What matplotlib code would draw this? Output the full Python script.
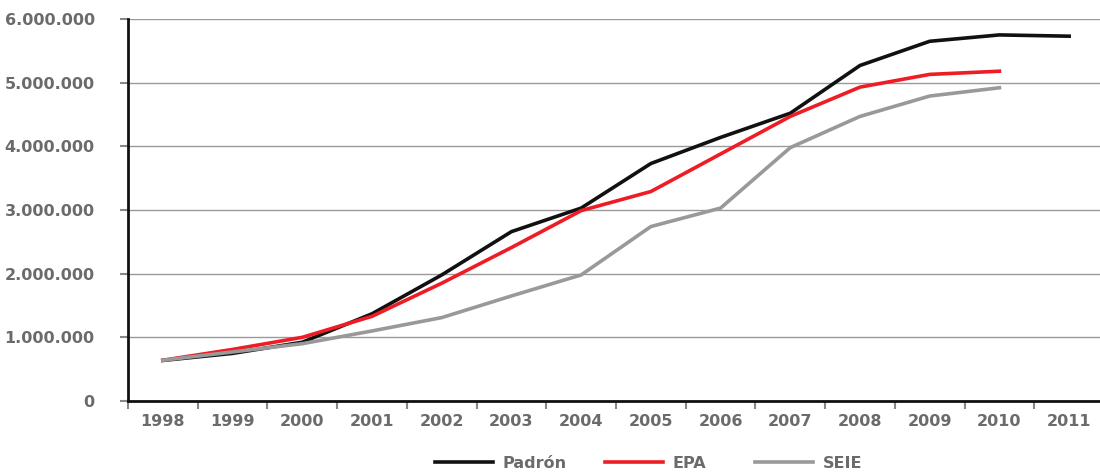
import matplotlib
matplotlib.use("Agg")
import matplotlib.pyplot as plt
from matplotlib.ticker import FuncFormatter, FixedLocator

years = ["1998", "1999", "2000", "2001", "2002", "2003", "2004",
         "2005", "2006", "2007", "2008", "2009", "2010", "2011"]
padron = [637000, 748000, 923000, 1370000, 1980000, 2660000, 3030000,
          3730000, 4140000, 4520000, 5270000, 5650000, 5750000, 5730000]
epa = [640000, 810000, 1000000, 1330000, 1850000, 2410000, 2990000,
       3290000, 3880000, 4470000, 4930000, 5130000, 5180000]
seie = [640000, 770000, 900000, 1100000, 1310000, 1650000, 1980000,
        2740000, 3030000, 3980000, 4470000, 4790000, 4920000]

plt.rcParams['font.family'] = ['DejaVu Sans']
txt = '#6b6b6b'

fig = plt.figure(figsize=(11, 4.76), dpi=100)
W, H = 1100, 476
ax = fig.add_axes([128 / W, 1 - 401 / H, (1104 - 128) / W, (401 - 19) / H])

x = list(range(len(years)))
l1, = ax.plot(x[:len(padron)], padron, color='#111111', lw=2.6, label='Padrón')
l2, = ax.plot(x[:len(epa)], epa, color='#ee1c25', lw=2.6, label='EPA')
l3, = ax.plot(x[:len(seie)], seie, color='#999999', lw=2.6, label='SEIE')

ax.set_xlim(-0.5, len(years) - 0.5)
ax.set_ylim(0, 6000000)
ax.yaxis.set_major_locator(FixedLocator([i * 1000000 for i in range(7)]))
ax.yaxis.set_major_formatter(FuncFormatter(lambda v, p: f"{int(v):,}".replace(",", ".")))
ax.grid(axis='y', color='#9a9a9a', lw=1)
ax.set_axisbelow(True)

ax.set_xticks([i - 0.5 for i in range(len(years) + 1)])
ax.set_xticklabels([])
ax.set_xticks(x, minor=True)
ax.set_xticklabels(years, minor=True)
ax.tick_params(axis='x', which='minor', length=0, pad=9, labelsize=11.5, labelcolor=txt)
ax.tick_params(axis='x', which='major', length=6, width=1.5, color='#888888', direction='out')
ax.tick_params(axis='y', length=6, width=1.5, color='#888888', labelsize=11.5, labelcolor=txt, pad=18)
for lab in ax.get_xticklabels(minor=True) + ax.get_yticklabels():
    lab.set_fontweight('bold')

for s in ['top', 'right']:
    ax.spines[s].set_visible(False)
for s in ['left', 'bottom']:
    ax.spines[s].set_color('#111111')
    ax.spines[s].set_linewidth(2)

for handle, xs in [(l1, 435), (l2, 605), (l3, 755)]:
    leg = fig.legend([handle], [handle.get_label()], loc='center left',
                     bbox_to_anchor=(xs / W, 1 - 463 / H), frameon=False,
                     borderpad=0, borderaxespad=0,
                     handlelength=3.63, handletextpad=0.6,
                     prop={'weight': 'bold', 'size': 11.5})
    for t in leg.get_texts():
        t.set_color(txt)

fig.savefig('out.png', dpi=100)
